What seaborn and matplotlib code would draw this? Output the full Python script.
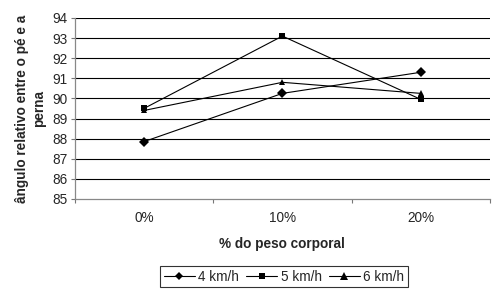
import pandas as pd
import numpy as np
import matplotlib
matplotlib.use("Agg")
import matplotlib.pyplot as plt
import seaborn as sns

# Dados
categorias = ["0%", "10%", "20%"]
v4 = [87.85, 90.25, 91.3]
v5 = [89.5, 93.1, 89.95]
v6 = [89.4, 90.8, 90.25]
series = ["4 km/h", "5 km/h", "6 km/h"]

pos = np.arange(len(categorias)) + 0.5
df = pd.DataFrame({
    "x": np.tile(pos, 3),
    "valor": v4 + v5 + v6,
    "serie": np.repeat(series, len(categorias)),
})

sns.set_style("white")
plt.rcParams["font.family"] = ["Liberation Sans", "DejaVu Sans"]
fs = 9.8

fig = plt.figure(figsize=(4.92, 2.90), dpi=100)
ax = fig.add_axes([0.152, 0.314, 0.844, 0.624])

# grade horizontal
for yv in range(86, 95):
    ax.axhline(yv, color="black", lw=0.8, zorder=0)

sns.lineplot(data=df, x="x", y="valor", hue="serie", style="serie",
             palette=["black"] * 3, markers=["D", "s", "^"], dashes=False,
             markersize=5, lw=0.8, markeredgewidth=0, ax=ax)
for line, ms in zip(ax.get_lines()[-3:], [3.8, 5, 5.5]):
    line.set_markersize(ms)

ax.set_xlim(0, 3)
ax.set_ylim(85, 94)
ax.set_yticks(range(85, 95))
ax.set_xticks(pos)
ax.set_xticklabels(categorias)
ax.set_xticks([0, 1, 2, 3], minor=True)
ax.tick_params(axis="x", which="major", length=0, labelsize=fs, pad=9)
ax.tick_params(axis="x", which="minor", length=3, direction="out", color="#777777", width=0.8, bottom=True)
ax.tick_params(axis="y", length=3, direction="out", color="#777777", width=0.8, labelsize=fs, left=True, pad=2)

for s in ["top", "right"]:
    ax.spines[s].set_visible(False)
for s in ["left", "bottom"]:
    ax.spines[s].set_color("#888888")
    ax.spines[s].set_linewidth(0.9)

ax.set_xlabel("% do peso corporal", fontsize=fs, fontweight="bold", labelpad=8)
ax.set_ylabel("ângulo relativo entre o pé e a\nperna", fontsize=fs, fontweight="bold", labelpad=5)

leg = ax.legend(loc="center", bbox_to_anchor=(0.504, -0.43), ncol=3, fontsize=fs,
                frameon=True, fancybox=False, handlelength=2.3, handletextpad=0.25,
                columnspacing=0.5, borderpad=0.25, borderaxespad=0)
leg.get_frame().set_edgecolor("black")
leg.get_frame().set_linewidth(0.8)

fig.savefig("out.png", dpi=100)
